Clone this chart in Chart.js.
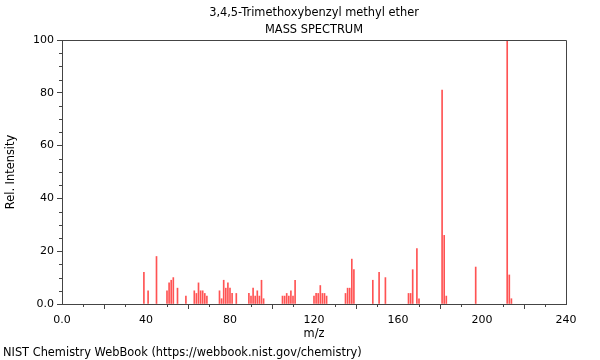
<!DOCTYPE html>
<html>
<head>
<meta charset="utf-8">
<script src="https://cdn.jsdelivr.net/npm/chart.js@4/dist/chart.umd.min.js"></script>
<style>
  html, body { margin: 0; padding: 0; background: #fff; }
  #wrap { width: 600px; height: 360px; position: relative; }
</style>
</head>
<body>
<div id="wrap"><canvas id="chart"></canvas></div>
<script>
// peaks
const mz = [39, 41, 45, 50, 51, 52, 53, 55, 59, 63, 64, 65, 66, 67, 68, 69,
  75, 76, 77, 78, 79, 80, 81, 83, 89, 90, 91, 92, 93, 94, 95, 96,
  105, 106, 107, 108, 109, 110, 111, 120, 121, 122, 123, 124, 125, 126,
  135, 136, 137, 138, 139, 148, 151, 154, 165, 166, 167, 169, 170,
  181, 182, 183, 197, 212, 213, 214];
const intensity = [12, 5, 18, 5, 8, 9, 10, 6, 3, 5, 4, 8, 5, 5, 4, 3,
  5, 2, 9, 6, 8, 6, 4, 4, 4, 3, 6, 3, 5, 3, 9, 2,
  3, 3, 4, 3, 5, 3, 9, 3, 4, 4, 7, 4, 4, 3,
  4, 6, 6, 17, 13, 9, 12, 10, 4, 4, 13, 21, 2,
  81, 26, 3, 14, 100, 11, 2];

const xMajor = [0, 40, 80, 120, 160, 200, 240];
const yMajor = [0, 20, 40, 60, 80, 100];

const titleLines = ["3,4,5-Trimethoxybenzyl methyl ether", "MASS SPECTRUM"];
const footer = "NIST Chemistry WebBook (https://webbook.nist.gov/chemistry)";

const font = "DejaVu Sans";
const axisColor = "#444";

function fmt(v) {
  return v === 0 ? "0.0" : String(v);
}

const decor = {
  id: "decor",
  beforeDraw(chart) {
    const c = chart.ctx;
    c.save();
    c.fillStyle = "#fff";
    c.fillRect(0, 0, chart.width, chart.height);
    c.restore();
  },
  afterDraw(chart) {
    const c = chart.ctx;
    const a = chart.chartArea;
    const xs = chart.scales.x;
    const ys = chart.scales.y;
    c.save();
    c.fillStyle = "#000";
    c.font = "11.4px '" + font + "'";
    c.textAlign = "center";
    c.textBaseline = "middle";
    c.fillText(titleLines[0], 314, 13);
    c.fillText(titleLines[1], 314, 30);
    c.fillText("m/z", (a.left + a.right) / 2, 334);
    c.textAlign = "left";
    c.fillText(footer, 3, 353);

    c.save();
    c.translate(11, (a.top + a.bottom) / 2);
    c.rotate(-Math.PI / 2);
    c.textAlign = "center";
    c.fillText("Rel. Intensity", 0, 0);
    c.restore();

    // frame: top and right
    c.strokeStyle = axisColor;
    c.lineWidth = 1;
    c.beginPath();
    c.moveTo(a.left, Math.round(a.top) + 0.5);
    c.lineTo(Math.round(a.right) + 0.5, Math.round(a.top) + 0.5);
    c.lineTo(Math.round(a.right) + 0.5, a.bottom);
    c.stroke();

    // minor ticks
    c.beginPath();
    for (let v = 10; v < 240; v += 10) {
      if (v % 40 === 0) continue;
      const px = Math.round(xs.getPixelForValue(v)) + 0.5;
      c.moveTo(px, a.bottom);
      c.lineTo(px, a.bottom + 3);
    }
    for (let v = 5; v < 100; v += 5) {
      if (v % 20 === 0) continue;
      const py = Math.round(ys.getPixelForValue(v)) + 0.5;
      c.moveTo(a.left, py);
      c.lineTo(a.left - 3, py);
    }
    c.stroke();
    c.restore();
  }
};

new Chart(document.getElementById("chart"), {
  type: "bar",
  data: {
    datasets: [{
      data: mz.map((m, i) => ({ x: m, y: intensity[i] })),
      backgroundColor: "rgba(255, 40, 40, 0.8)",
      borderWidth: 0,
      barThickness: 1
    }]
  },
  options: {
    responsive: true,
    maintainAspectRatio: false,
    animation: false,
    devicePixelRatio: 1,
    layout: { padding: { top: 40, right: 34, left: 0, bottom: 0 } },
    plugins: {
      legend: { display: false },
      title: { display: false },
      tooltip: { enabled: false }
    },
    scales: {
      x: {
        type: "linear",
        min: 0,
        max: 240,
        offset: false,
        afterBuildTicks: (s) => { s.ticks = xMajor.map((v) => ({ value: v })); },
        afterFit: (s) => { s.height = 56; },
        ticks: {
          autoSkip: false,
          maxRotation: 0,
          padding: 5,
          color: "#000",
          font: { family: font, size: 11 },
          callback: (v) => fmt(v)
        },
        grid: {
          drawOnChartArea: false,
          tickLength: 5,
          tickColor: axisColor
        },
        border: { color: axisColor }
      },
      y: {
        min: 0,
        max: 100,
        afterBuildTicks: (s) => { s.ticks = yMajor.map((v) => ({ value: v })); },
        afterFit: (s) => { s.width = 62; },
        ticks: {
          padding: 3,
          color: "#000",
          font: { family: font, size: 11 },
          callback: (v) => fmt(v)
        },
        grid: {
          drawOnChartArea: false,
          tickLength: 5,
          tickColor: axisColor
        },
        border: { color: axisColor }
      }
    }
  },
  plugins: [decor]
});
</script>
</body>
</html>
